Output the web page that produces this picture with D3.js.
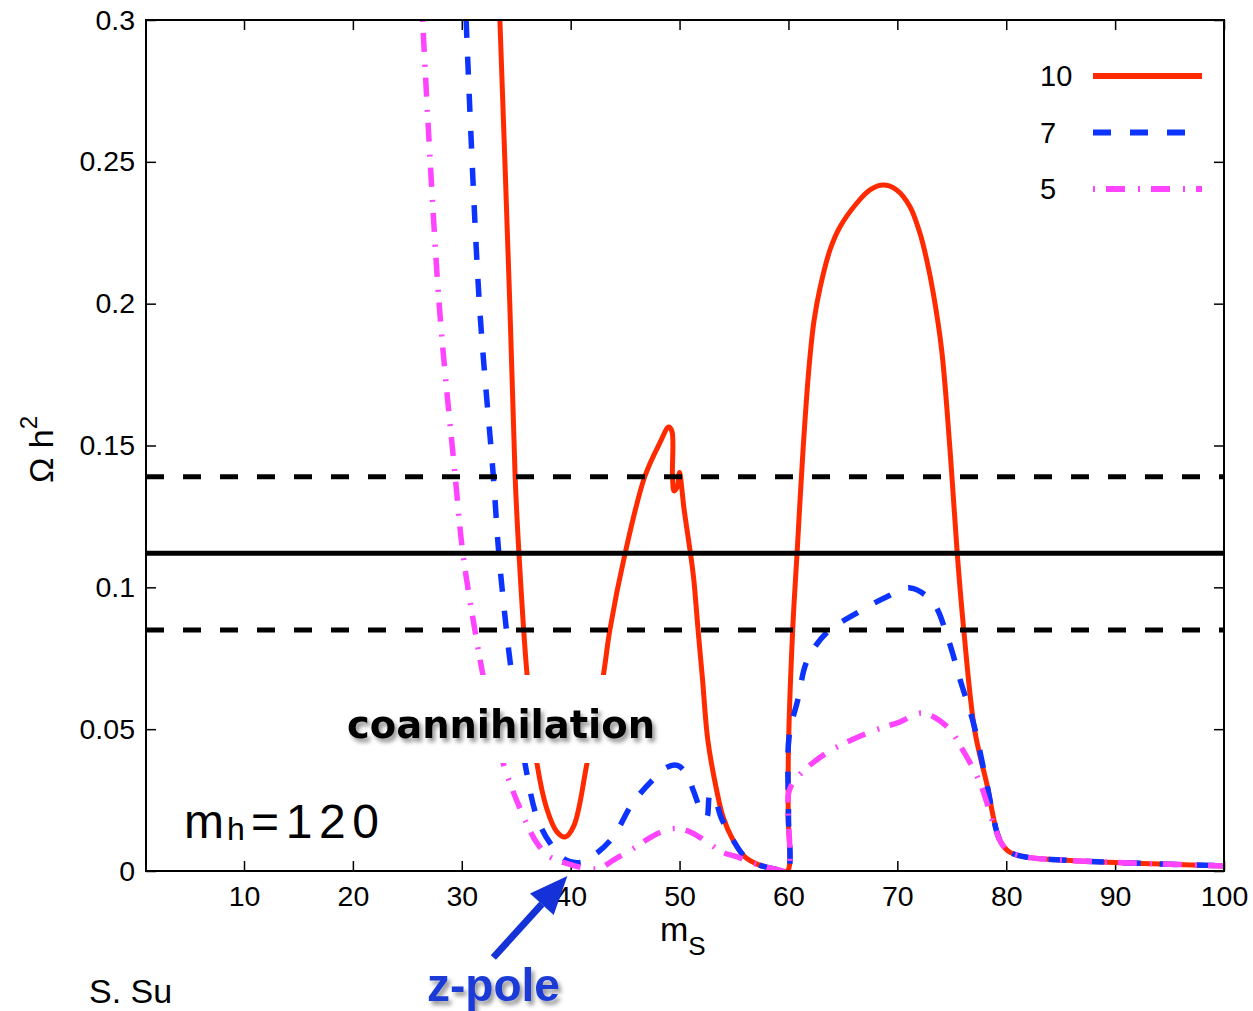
<!DOCTYPE html>
<html lang="en">
<head>
<meta charset="UTF-8">
<title>Relic density vs m_S</title>
<script src="https://d3js.org/d3.v7.min.js"></script>
<style>
  body { margin: 0; background: #fff; font-family: "Liberation Sans", Arial, sans-serif; }
  svg { display: block; }
</style>
</head>
<body>
<svg width="1253" height="1011"></svg>
<script>
// axis ticks
const xTicks = [10, 20, 30, 40, 50, 60, 70, 80, 90, 100];
const yTicks = [0, 0.05, 0.1, 0.15, 0.2, 0.25, 0.3];
const yTickLabels = ["0", "0.05", "0.1", "0.15", "0.2", "0.25", "0.3"];

// WMAP band: upper, central, lower
const bandLines = [0.139, 0.112, 0.085];

// common tail above 80 GeV
const tail = [[80.3, 0.0067], [82, 0.0048], [85, 0.0039], [90, 0.003], [95, 0.0024], [100, 0.0018]];

// series "10" (red, solid)  [m_S, Omega h^2]
const series10 = [
  [33.5, 0.3], [34.4, 0.201], [34.9, 0.139], [35.25, 0.112], [36.0, 0.069], [36.9, 0.038],
  [37.8, 0.022], [38.7, 0.014], [39.5, 0.012], [40.3, 0.016], [41.5, 0.038], [43.0, 0.069],
  [43.6, 0.085], [45.0, 0.112], [46.8, 0.139], [48.2, 0.151], [49.0, 0.1565], [49.3, 0.155],
  [49.35, 0.139], [49.5, 0.134], [49.8, 0.1355], [50.0, 0.1405], [50.2, 0.135], [50.4, 0.128],
  [51.0, 0.112], [51.3, 0.103], [51.7, 0.085], [52.1, 0.068], [52.6, 0.046], [53.4, 0.0286],
  [54.0, 0.019], [54.9, 0.011], [56.0, 0.005], [57.4, 0.002], [59.0, 0.0005], [59.9, 0.0],
  [59.97, 0.02], [60.0, 0.043], [60.39, 0.085], [60.81, 0.1132], [61.34, 0.1484], [61.9, 0.178],
  [62.35, 0.194], [62.9, 0.2055], [63.82, 0.219], [64.74, 0.2271], [66.27, 0.2354],
  [67.49, 0.2401], [68.71, 0.2418], [69.94, 0.2401], [71.16, 0.2342], [72.08, 0.2248],
  [72.7, 0.2154], [73.3, 0.2037], [74.07, 0.1837], [74.84, 0.1484], [75.5, 0.112],
  [76.1, 0.085], [77.1, 0.0497], [78.2, 0.031], [79.4, 0.011]
].concat(tail);

// series "7" (blue, dashed)
const series7 = [
  [30.4, 0.3], [31.6, 0.201], [32.9, 0.139], [33.4, 0.112], [34.1, 0.085], [34.6, 0.069],
  [35.8, 0.038], [36.9, 0.019], [38.1, 0.0099], [39.5, 0.004], [40.9, 0.003], [42.3, 0.006],
  [43.9, 0.012], [45.7, 0.024], [47.9, 0.0335], [48.9, 0.0367], [49.8, 0.0372], [50.6, 0.0345],
  [51.3, 0.028], [51.9, 0.022], [52.5, 0.019], [52.8, 0.027], [53.2, 0.026], [53.8, 0.019],
  [54.9, 0.011], [56.0, 0.005], [57.4, 0.002], [59.0, 0.0005], [59.9, 0.0], [60.0, 0.02],
  [60.05, 0.047], [60.9, 0.061], [61.7, 0.074], [63.5, 0.084], [66.3, 0.091], [69.0, 0.0966],
  [71.2, 0.0998], [73.3, 0.0945], [74.6, 0.0825], [75.8, 0.067], [77.0, 0.052], [78.2, 0.031],
  [79.4, 0.011]
].concat(tail);

// series "5" (magenta, dash-dot)
const series5 = [
  [26.4, 0.3], [27.9, 0.201], [29.4, 0.139], [30.1, 0.112], [31.2, 0.085], [31.9, 0.070],
  [32.9, 0.052], [33.8, 0.038], [35.3, 0.0225], [36.9, 0.0099], [38.1, 0.005], [40.2, 0.002],
  [41.8, 0.0008], [42.7, 0.001], [44.0, 0.004], [45.7, 0.0078], [47.3, 0.0118], [48.6, 0.0142],
  [49.6, 0.0150], [50.6, 0.0143], [51.6, 0.0125], [52.8, 0.0095], [54.0, 0.0065], [55.3, 0.005],
  [56.5, 0.003], [57.4, 0.002], [59.0, 0.0005], [59.9, 0.0], [60.05, 0.028], [60.8, 0.033],
  [63.5, 0.0416], [67.5, 0.049], [70.2, 0.0525], [72.3, 0.0557], [74.6, 0.0508], [76.0, 0.0427],
  [77.6, 0.031], [78.8, 0.017], [79.6, 0.0095]
].concat(tail);

const seriesNames = ["10", "7", "5"];
const seriesData = [series10, series7, series5];
const seriesColors = ["#ff2a00", "#0d33ff", "#ff44ff"];
const seriesDash = [null, "18,19", "2,11,19,13"];
const seriesWidth = [5, 5.5, 5.5];

const margin = {top: 20, right: 29, bottom: 140, left: 146};
const width = 1253 - margin.left - margin.right;
const height = 1011 - margin.top - margin.bottom;

const svg = d3.select("svg");

const defs = svg.append("defs");
defs.append("clipPath").attr("id", "plotClip")
    .append("rect").attr("x", 0).attr("y", 0).attr("width", width).attr("height", height);
defs.append("filter").attr("id", "shadow").attr("x", "-10%").attr("y", "-30%").attr("width", "130%").attr("height", "180%")
    .append("feDropShadow").attr("dx", 3).attr("dy", 4).attr("stdDeviation", 2)
    .attr("flood-color", "#000").attr("flood-opacity", 0.4);

const g = svg.append("g").attr("transform", `translate(${margin.left},${margin.top})`);

const x = d3.scaleLinear().domain([1, 100]).range([0, width]);
const y = d3.scaleLinear().domain([0, 0.3]).range([height, 0]);

// axes (ticks point inward, mirrored on top/right)
g.append("g").attr("transform", `translate(0,${height})`)
    .call(d3.axisBottom(x).tickValues(xTicks).tickSizeInner(-10).tickSizeOuter(0).tickPadding(15));
g.append("g")
    .call(d3.axisLeft(y).tickValues(yTicks).tickFormat((d, i) => yTickLabels[i])
      .tickSizeInner(-10).tickSizeOuter(0).tickPadding(11));
g.append("g").call(d3.axisTop(x).tickValues(xTicks).tickSizeInner(-10).tickSizeOuter(0).tickFormat(""));
g.append("g").attr("transform", `translate(${width},0)`)
    .call(d3.axisRight(y).tickValues(yTicks).tickSizeInner(-10).tickSizeOuter(0).tickFormat(""));

g.selectAll(".domain").remove();
g.selectAll(".tick line").attr("stroke", "#000").attr("stroke-width", 1.5);
g.selectAll(".tick text").attr("font-family", "Liberation Sans, Arial, sans-serif")
    .attr("font-size", 28.5).attr("fill", "#000");

// curves
const line = d3.line()
    .x(d => x(d[0]))
    .y(d => y(d[1]))
    .curve(d3.curveCatmullRom.alpha(0.5));

const plot = g.append("g").attr("clip-path", "url(#plotClip)");

seriesData.forEach((data, i) => {
  plot.append("path")
      .datum(data)
      .attr("fill", "none")
      .attr("stroke", seriesColors[i])
      .attr("stroke-width", seriesWidth[i])
      .attr("stroke-dasharray", seriesDash[i])
      .attr("stroke-linejoin", "round")
      .attr("d", line);
});

// band lines
plot.selectAll(".band")
    .data(bandLines)
    .enter()
    .append("line")
    .attr("x1", 0).attr("x2", width)
    .attr("y1", d => y(d)).attr("y2", d => y(d))
    .attr("stroke", "#000")
    .attr("stroke-width", 5)
    .attr("stroke-dasharray", (d, i) => i === 1 ? null : "18,19");

// white box behind the coannihilation label
g.append("rect")
    .attr("x", 194).attr("y", 655)
    .attr("width", 320).attr("height", 88)
    .attr("fill", "#fff");

g.append("text")
    .attr("x", 201).attr("y", 718)
    .attr("font-family", "DejaVu Sans, sans-serif")
    .attr("font-weight", "bold")
    .attr("font-size", 39)
    .attr("textLength", 308)
    .attr("lengthAdjust", "spacingAndGlyphs")
    .attr("filter", "url(#shadow)")
    .text("coannihilation");

// frame
g.append("rect")
    .attr("width", width).attr("height", height)
    .attr("fill", "none").attr("stroke", "#000").attr("stroke-width", 2);

// legend
const legend = g.append("g");
seriesNames.forEach((name, i) => {
  const ly = 56 + i * 56.5;
  legend.append("text")
      .attr("x", 894).attr("y", ly + 10)
      .attr("font-size", 29)
      .text(name);
  legend.append("line")
      .attr("x1", 947).attr("x2", 1056)
      .attr("y1", ly).attr("y2", ly)
      .attr("stroke", seriesColors[i])
      .attr("stroke-width", 6)
      .attr("stroke-dasharray", seriesDash[i]);
});

// axis titles
const xt = svg.append("text")
    .attr("x", 660).attr("y", 941)
    .attr("font-size", 34);
xt.append("tspan").text("m");
xt.append("tspan").attr("font-size", 26).attr("dy", 14).text("S");

const yt = svg.append("text")
    .attr("transform", "translate(53,483) rotate(-90)")
    .attr("font-size", 34);
yt.append("tspan").text("\u03A9 h");
yt.append("tspan").attr("font-size", 24).attr("dy", -16).text("2");

// annotations
svg.append("text").attr("x", 184).attr("y", 838).attr("font-size", 48).text("m");
svg.append("text").attr("x", 227).attr("y", 840).attr("font-size", 32).text("h");
svg.append("text").attr("x", 251).attr("y", 838).attr("font-size", 48)
    .attr("textLength", 128).attr("lengthAdjust", "spacing").text("=120");

svg.append("text")
    .attr("x", 89).attr("y", 1003)
    .attr("font-size", 34)
    .text("S. Su");

svg.append("text")
    .attr("x", 427).attr("y", 1001)
    .attr("font-weight", "bold")
    .attr("font-size", 46)
    .attr("fill", "#1a3ad6")
    .attr("filter", "url(#shadow)")
    .text("z-pole");

// arrow to the z-pole dip
const tip = [x(39.7) + margin.left, y(-0.0018) + margin.top];
const tailPt = [x(32.9) + margin.left, y(-0.0305) + margin.top];
const ang = Math.atan2(tip[1] - tailPt[1], tip[0] - tailPt[0]);
const headLen = 38, headHalf = 16;
const base = [tip[0] - headLen * Math.cos(ang), tip[1] - headLen * Math.sin(ang)];
svg.append("line")
    .attr("x1", tailPt[0]).attr("y1", tailPt[1])
    .attr("x2", base[0]).attr("y2", base[1])
    .attr("stroke", "#1432d8").attr("stroke-width", 7);
svg.append("polygon")
    .attr("points", [
      tip,
      [base[0] + headHalf * Math.sin(ang), base[1] - headHalf * Math.cos(ang)],
      [base[0] - headHalf * Math.sin(ang), base[1] + headHalf * Math.cos(ang)]
    ].map(p => p.join(",")).join(" "))
    .attr("fill", "#1432d8");
</script>
</body>
</html>
